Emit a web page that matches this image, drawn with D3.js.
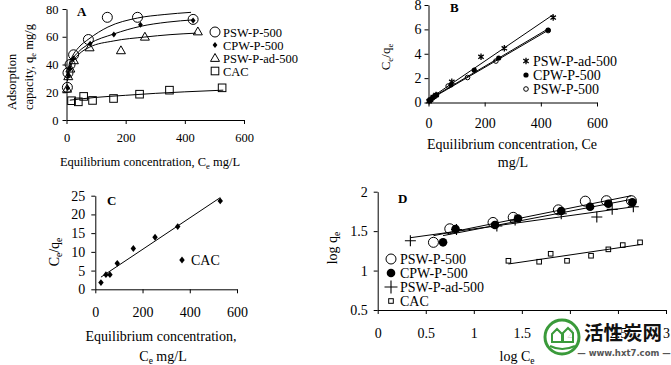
<!DOCTYPE html>
<html><head><meta charset="utf-8">
<script src="https://cdn.jsdelivr.net/npm/d3@7"></script>
<style>body{margin:0;background:#fff}svg{display:block}</style>
</head><body>
<svg id="c" width="671" height="365"></svg>
<script>
// ---------------- DATA ----------------
const seriesNames = ["PSW-P-500", "CPW-P-500", "PSW-P-ad-500", "CAC"];

// Panel A: qe vs Ce
const A_PSW_Ce = [3, 5, 12, 24, 74, 138, 240, 428];
const A_PSW_qe = [23.5, 34, 40, 47, 58, 74, 74, 72.5];
const A_CPW_Ce = [4, 6.5, 12, 22, 80, 160, 250, 428];
const A_CPW_qe = [23, 32, 37, 44, 55, 61.6, 68.6, 71.8];
const A_AD_Ce = [2, 6, 13, 25, 78, 184, 265, 444];
const A_AD_qe = [22.5, 31.5, 37, 43, 52.3, 50.2, 60, 63.8];
const A_CAC_Ce = [17, 40, 58, 88, 159, 247, 348, 526];
const A_CAC_qe = [13.9, 13.1, 17, 14.1, 15.5, 18.6, 21.5, 23.2];
// Panel A fitted curves
const A_fitPSW_x = [3, 10, 20, 40, 76, 140, 240, 330, 421];
const A_fitPSW_y = [33, 41, 46, 52, 58.5, 67, 73.5, 76, 77.6];
const A_fitCPW_x = [3, 10, 20, 40, 78, 160, 250, 340, 430];
const A_fitCPW_y = [30, 38, 43.5, 49, 55, 62, 67.5, 70.5, 72.2];
const A_fitAD_x = [3, 10, 20, 40, 78, 160, 265, 350, 438];
const A_fitAD_y = [28, 36, 41.5, 47, 52.5, 57, 59.8, 61.5, 62.6];
const A_fitCAC_x = [11, 100, 200, 300, 400, 530];
const A_fitCAC_y = [14.3, 16.3, 17.8, 19.2, 20.3, 21.5];
const A_ticksX = [0, 200, 400, 600];
const A_ticksY = [0, 20, 40, 60, 80];

// Panel B: Ce/qe vs Ce (Langmuir)
const B_AD_x = [2, 7, 17, 27, 83, 187, 270, 444];
const B_AD_y = [0.1, 0.22, 0.46, 0.62, 1.7, 3.75, 4.45, 6.97];
const B_CPW_x = [4, 7, 17, 29, 80, 163, 250, 426];
const B_CPW_y = [0.2, 0.22, 0.45, 0.63, 1.45, 2.65, 3.65, 5.95];
const B_PSW_x = [3, 6, 14, 25, 70, 139, 240, 426];
const B_PSW_y = [0.13, 0.18, 0.35, 0.55, 1.35, 2.05, 3.4, 5.9];
const B_ticksX = [0, 200, 400, 600];
const B_ticksY = [0, 2, 4, 6, 8];

// Panel C: CAC Ce/qe vs Ce
const C_CAC_x = [24, 45, 62, 93, 161, 253, 349, 529];
const C_CAC_y = [1.8, 3.9, 3.9, 6.95, 10.9, 13.9, 16.75, 23.6];
const C_ticksX = [0, 200, 400, 600];
const C_ticksY = [0, 5, 10, 15, 20, 25];

// Panel D: log qe vs log Ce (Freundlich)
const D_PSW_x = [0.58, 0.75, 1.20, 1.41, 1.88, 2.16, 2.38, 2.64];
const D_PSW_y = [1.358, 1.53, 1.61, 1.675, 1.77, 1.88, 1.886, 1.886];
const D_CPW_x = [0.68, 0.81, 1.22, 1.46, 1.91, 2.21, 2.40, 2.65];
const D_CPW_y = [1.358, 1.526, 1.577, 1.66, 1.755, 1.81, 1.848, 1.865];
const D_AD_x = [0.34, 0.82, 1.24, 1.43, 1.91, 2.28, 2.44, 2.66];
const D_AD_y = [1.378, 1.52, 1.565, 1.64, 1.72, 1.68, 1.776, 1.81];
const D_CAC_x = [1.36, 1.68, 1.80, 1.97, 2.22, 2.40, 2.55, 2.73];
const D_CAC_y = [1.124, 1.112, 1.213, 1.124, 1.188, 1.269, 1.323, 1.358];
const D_ticksX = [0, 0.5, 1, 1.5, 2, 2.5, 3];
const D_ticksY = [0.5, 1, 1.5, 2];

// ---------------- DRAWING ----------------
const FONT = '"Liberation Serif","Times New Roman",serif';
const svg = d3.select("#c").style("font-family", FONT);
svg.append("rect").attr("width", 671).attr("height", 365).attr("fill", "#fff");

const zip = (xs, ys) => xs.map((v, i) => [v, ys[i]]);
const fmt = d3.format("~g");

function linReg(xs, ys) {
  const n = xs.length, mx = d3.mean(xs), my = d3.mean(ys);
  let sxy = 0, sxx = 0;
  for (let i = 0; i < n; i++) { sxy += (xs[i] - mx) * (ys[i] - my); sxx += (xs[i] - mx) ** 2; }
  const b = sxy / sxx; return { b, a: my - b * mx };
}

function drawAxes(g, x, y, xt, yt, fs, xpad, ypad, ts) {
  const gx = g.append("g").attr("transform", `translate(0,${y.range()[0]})`)
    .call(d3.axisBottom(x).tickValues(xt).tickFormat(fmt).tickSize(ts).tickSizeOuter(0).tickPadding(xpad));
  const gy = g.append("g").attr("transform", `translate(${x.range()[0]},0)`)
    .call(d3.axisLeft(y).tickValues(yt).tickFormat(fmt).tickSize(ts).tickSizeOuter(0).tickPadding(ypad));
  [gx, gy].forEach(a => {
    a.attr("font-family", null).attr("font-size", null);
    a.selectAll("text").attr("font-size", fs).style("font-family", FONT).attr("fill", "#000");
    a.selectAll("line,path").attr("stroke", "#000").attr("stroke-width", 1);
  });
}

function richText(g, x, y, parts, fs, anchor, rotate, weight) {
  const t = g.append("text").attr("x", x).attr("y", y).attr("font-size", fs)
    .attr("text-anchor", anchor || "start").attr("fill", "#000");
  if (weight) t.attr("font-weight", weight);
  if (rotate) t.attr("transform", `rotate(-90,${x},${y})`);
  let shift = 0;
  parts.forEach(p => {
    const sub = !!p[1];
    const target = sub ? fs * 0.22 : 0;
    const s = t.append("tspan").text(p[0]).attr("dy", target - shift);
    shift = target;
    if (sub) s.attr("font-size", fs * 0.68);
  });
  return t;
}

function marker(g, type, cx, cy, s) {
  const k = "#000";
  switch (type) {
    case "circleOpen":
      g.append("circle").attr("cx", cx).attr("cy", cy).attr("r", s).attr("fill", "none").attr("stroke", k).attr("stroke-width", 1); break;
    case "circleFill":
      g.append("circle").attr("cx", cx).attr("cy", cy).attr("r", s).attr("fill", k); break;
    case "diamond":
      g.append("path").attr("d", `M${cx},${cy - s}L${cx + s * 0.8},${cy}L${cx},${cy + s}L${cx - s * 0.8},${cy}Z`).attr("fill", k); break;
    case "triangleOpen":
      g.append("path").attr("d", `M${cx},${cy - s}L${cx + s},${cy + s * 0.75}L${cx - s},${cy + s * 0.75}Z`).attr("fill", "none").attr("stroke", k); break;
    case "squareOpen":
      g.append("rect").attr("x", cx - s).attr("y", cy - s).attr("width", 2 * s).attr("height", 2 * s).attr("fill", "none").attr("stroke", k); break;
    case "plus":
      g.append("path").attr("d", `M${cx - s},${cy}H${cx + s}M${cx},${cy - s}V${cy + s}`).attr("stroke", k).attr("stroke-width", 1.1).attr("fill", "none"); break;
    case "star":
      g.append("path").attr("d", `M${cx - s * 0.85},${cy - s * 0.6}L${cx + s * 0.85},${cy + s * 0.6}M${cx - s * 0.85},${cy + s * 0.6}L${cx + s * 0.85},${cy - s * 0.6}M${cx},${cy - s}V${cy + s}`).attr("stroke", k).attr("stroke-width", 1.3).attr("fill", "none"); break;
  }
}

function scatter(g, x, y, xs, ys, type, s) {
  xs.forEach((v, i) => marker(g, type, x(v), y(ys[i]), s));
}
function fitLine(g, x, y, xs, ys) {
  const r = linReg(xs, ys), x0 = d3.min(xs), x1 = d3.max(xs);
  g.append("line").attr("x1", x(x0)).attr("y1", y(r.a + r.b * x0)).attr("x2", x(x1)).attr("y2", y(r.a + r.b * x1))
    .attr("stroke", "#000").attr("stroke-width", 1);
}
function curvePath(g, x, y, xs, ys) {
  g.append("path").datum(zip(xs, ys))
    .attr("d", d3.line().x(d => x(d[0])).y(d => y(d[1])).curve(d3.curveMonotoneX))
    .attr("fill", "none").attr("stroke", "#000").attr("stroke-width", 1);
}

// ---- Panel A ----
{
  const g = svg.append("g");
  const x = d3.scaleLinear().domain([0, 600]).range([66.5, 244]);
  const y = d3.scaleLinear().domain([0, 80]).range([120, 9]);
  drawAxes(g, x, y, A_ticksX, A_ticksY, 12.5, 9, 4, 4);
  curvePath(g, x, y, A_fitPSW_x, A_fitPSW_y);
  curvePath(g, x, y, A_fitCPW_x, A_fitCPW_y);
  curvePath(g, x, y, A_fitAD_x, A_fitAD_y);
  curvePath(g, x, y, A_fitCAC_x, A_fitCAC_y);
  scatter(g, x, y, A_PSW_Ce, A_PSW_qe, "circleOpen", 5);
  scatter(g, x, y, A_CPW_Ce, A_CPW_qe, "diamond", 3);
  scatter(g, x, y, A_AD_Ce, A_AD_qe, "triangleOpen", 4.5);
  scatter(g, x, y, A_CAC_Ce, A_CAC_qe, "squareOpen", 3.8);
  richText(g, 77, 16, [["A"]], 13, "start", false, "bold");
  richText(g, 150, 166, [["Equilibrium concentration, C"], ["e", 1], [" mg/L"]], 12.5, "middle");
  richText(g, 16, 110, [["Adsorption"]], 12.5, "start", true);
  richText(g, 33, 110, [["capacity, q"], ["e", 1], [" mg/g"]], 12.5, "start", true);
  const types = ["circleOpen", "diamond", "triangleOpen", "squareOpen"], sz = [5, 3, 4.5, 3.8];
  seriesNames.forEach((n, i) => {
    const yy = 32 + i * 13;
    marker(g, types[i], 215, yy, sz[i]);
    g.append("text").attr("x", 223).attr("y", yy + 4.5).attr("font-size", 12.5).text(n);
  });
}

// ---- Panel B ----
{
  const g = svg.append("g");
  const x = d3.scaleLinear().domain([0, 600]).range([428.5, 597]);
  const y = d3.scaleLinear().domain([0, 8]).range([102.5, 5]);
  drawAxes(g, x, y, B_ticksX, B_ticksY, 14, 12, 3, 4);
  fitLine(g, x, y, B_AD_x, B_AD_y);
  fitLine(g, x, y, B_CPW_x, B_CPW_y);
  fitLine(g, x, y, B_PSW_x, B_PSW_y);
  scatter(g, x, y, B_AD_x, B_AD_y, "star", 3.2);
  scatter(g, x, y, B_CPW_x, B_CPW_y, "circleFill", 2.6);
  scatter(g, x, y, B_PSW_x, B_PSW_y, "circleOpen", 2.3);
  richText(g, 450, 12, [["B"]], 13, "start", false, "bold");
  richText(g, 512, 149, [["Equilibrium concentration, Ce"]], 14, "middle");
  richText(g, 513, 167, [["mg/L"]], 14, "middle");
  richText(g, 390, 57, [["C"], ["e", 1], ["/q"], ["e", 1]], 13, "middle", true);
  const names = ["PSW-P-ad-500", "CPW-P-500", "PSW-P-500"], types = ["star", "circleFill", "circleOpen"], sz = [3.2, 2.6, 2.3];
  names.forEach((n, i) => {
    const yy = 61 + i * 14;
    marker(g, types[i], 526, yy, sz[i]);
    g.append("text").attr("x", 533).attr("y", yy + 5).attr("font-size", 14).text(n);
  });
}

// ---- Panel C ----
{
  const g = svg.append("g");
  const x = d3.scaleLinear().domain([0, 600]).range([95.3, 237]);
  const y = d3.scaleLinear().domain([0, 25]).range([289.3, 195.7]);
  drawAxes(g, x, y, C_ticksX, C_ticksY, 14, 14, 6, 4);
  fitLine(g, x, y, C_CAC_x, C_CAC_y);
  scatter(g, x, y, C_CAC_x, C_CAC_y, "diamond", 3.4);
  richText(g, 107, 205, [["C"]], 13, "start", false, "bold");
  richText(g, 161, 341, [["Equilibrium concentration,"]], 14, "middle");
  richText(g, 163, 361, [["C"], ["e", 1], [" mg/L"]], 14, "middle");
  richText(g, 59, 252, [["C"], ["e", 1], ["/q"], ["e", 1]], 14, "middle", true);
  marker(g, "diamond", 182, 260, 3.4);
  g.append("text").attr("x", 191).attr("y", 265).attr("font-size", 14).text("CAC");
}

// ---- Panel D ----
{
  const g = svg.append("g");
  const x = d3.scaleLinear().domain([0, 3]).range([377.7, 666]);
  const y = d3.scaleLinear().domain([0.5, 2]).range([310, 191.7]);
  drawAxes(g, x, y, D_ticksX, D_ticksY, 14, 14, 6, 4);
  fitLine(g, x, y, D_PSW_x, D_PSW_y);
  fitLine(g, x, y, D_CPW_x, D_CPW_y);
  fitLine(g, x, y, D_AD_x, D_AD_y);
  fitLine(g, x, y, D_CAC_x, D_CAC_y);
  scatter(g, x, y, D_PSW_x, D_PSW_y, "circleOpen", 5);
  scatter(g, x, y, D_CPW_x, D_CPW_y, "circleFill", 4.3);
  scatter(g, x, y, D_AD_x, D_AD_y, "plus", 5.5);
  scatter(g, x, y, D_CAC_x, D_CAC_y, "squareOpen", 2.3);
  richText(g, 398, 203, [["D"]], 13, "start", false, "bold");
  richText(g, 517, 361, [["log C"], ["e", 1]], 14, "middle");
  richText(g, 337, 248, [["log q"], ["e", 1]], 14, "middle", true);
  const types = ["circleOpen", "circleFill", "plus", "squareOpen"], sz = [5, 4.3, 6.5, 2.3];
  seriesNames.forEach((n, i) => {
    const yy = 259 + i * 14;
    marker(g, types[i], 391, yy, sz[i]);
    g.append("text").attr("x", 400).attr("y", yy + 5).attr("font-size", 14).text(n);
  });
}

// ---- watermark ----
{
  const g = svg.append("g");
  g.append("circle").attr("cx", 562).attr("cy", 337).attr("r", 17).attr("fill", "#fff").attr("fill-opacity", 0.85)
    .attr("stroke", "#3a9a3a").attr("stroke-width", 3);
  g.append("path").attr("d", "M552,342 L552,334 L557,329 L562,334 L562,342 Z M563,342 L563,333 L568,328 L573,333 L573,342 Z")
    .attr("fill", "none").attr("stroke", "#3a9a3a").attr("stroke-width", 2);
  g.append("path").attr("d", "M550,346 Q562,352 575,346").attr("fill", "none").attr("stroke", "#3a9a3a").attr("stroke-width", 2);
  g.append("text").attr("x", 584).attr("y", 340).attr("font-size", 19.5).attr("font-weight", "bold")
    .style("font-family", '"Noto Sans CJK SC",sans-serif').attr("fill", "#111").text("活性炭网");
  g.append("text").attr("x", 624).attr("y", 356).attr("font-size", 8.5).attr("font-weight", "bold").attr("text-anchor", "middle")
    .style("font-family", '"DejaVu Sans",sans-serif').attr("fill", "#555").text("— www.hxt7.com —");
}
</script>
</body></html>
